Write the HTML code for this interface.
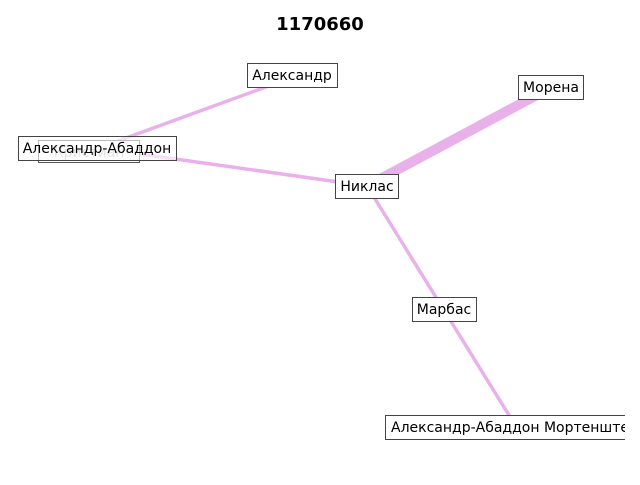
<!DOCTYPE html>
<html><head><meta charset="utf-8"><style>
body{margin:0;background:#fff;}
svg text{font-family:"DejaVu Sans","Liberation Sans",sans-serif;}
</style></head><body>
<svg width="640" height="480" xmlns="http://www.w3.org/2000/svg">
<defs><clipPath id="c"><rect x="0" y="0" width="625" height="480"/></clipPath></defs>
<rect width="640" height="480" fill="#fff"/>
<text x="320" y="30" text-anchor="middle" font-size="18" font-weight="bold" fill="#000">1170660</text>
<g clip-path="url(#c)">
<g stroke="#e9b1ea" fill="none" stroke-linecap="butt">
<line x1="115" y1="142" x2="285" y2="80" stroke-width="3.5"/>
<line x1="140" y1="154" x2="367" y2="186" stroke-width="3.5"/>
<line x1="367" y1="186" x2="550" y2="88" stroke-width="10"/>
<line x1="367" y1="186" x2="512" y2="420" stroke-width="3.5"/>
</g>
<g font-size="14" fill="#000">
<rect x="38.5" y="140.5" width="101" height="22" fill="#fff" stroke="#555"/>
<text x="89" y="157" text-anchor="middle" fill="#bbb">Кристиан</text>
<rect x="18.5" y="136.5" width="158" height="24" fill="#fff" fill-opacity="0.6" stroke="#444"/>
<text x="97" y="153" text-anchor="middle">Александр-Абаддон</text>
<rect x="247.5" y="63.5" width="90" height="24" fill="#fff" stroke="#444"/>
<text x="292" y="80" text-anchor="middle">Александр</text>
<rect x="518.5" y="75.5" width="65" height="24" fill="#fff" stroke="#444"/>
<text x="551" y="92" text-anchor="middle">Морена</text>
<rect x="335.5" y="174.5" width="63" height="24" fill="#fff" stroke="#444"/>
<text x="367" y="191" text-anchor="middle">Никлас</text>
<rect x="412.5" y="297.5" width="64" height="24" fill="#fff" stroke="#444"/>
<text x="444" y="314" text-anchor="middle">Марбас</text>
<rect x="385.5" y="415.5" width="260" height="24" fill="#fff" stroke="#444"/>
<text x="391" y="432">Александр-Абаддон Мортенштейн</text>
</g>
</g>
</svg>
</body></html>
